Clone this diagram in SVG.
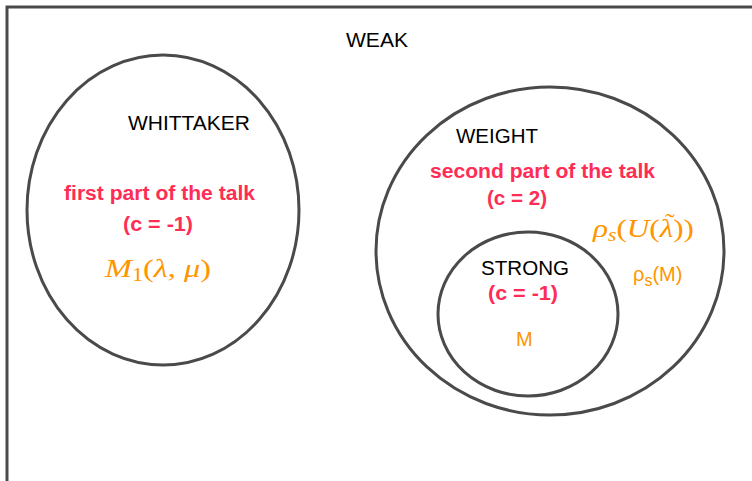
<svg xmlns="http://www.w3.org/2000/svg" width="752" height="481" viewBox="0 0 752 481">
<style>
.shape{fill:none;stroke:#4a4a4a;stroke-width:3}
.lbl{font-family:"Liberation Sans",Arial,sans-serif;font-size:20px;fill:#000}
.pink{font-family:"Liberation Sans",Arial,sans-serif;font-size:20px;font-weight:bold;fill:#ff2d55}
.or{font-family:"Liberation Sans",Arial,sans-serif;font-size:20px;fill:#ff9500}
.math{font-family:"Liberation Serif","Times New Roman",serif;font-size:26px;fill:#ff9500}
</style>
<rect width="752" height="481" fill="#fff"/>
<g id="weak">
<path class="shape" d="M7 481 V7 H752"/>
<text class="lbl" x="346" y="47" textLength="62" lengthAdjust="spacingAndGlyphs">WEAK</text>
</g>
<g id="whittaker">
<ellipse class="shape" cx="163" cy="210" rx="136" ry="155"/>
<text class="lbl" x="128" y="130" textLength="122" lengthAdjust="spacingAndGlyphs">WHITTAKER</text>
<text class="pink" x="64" y="200" textLength="191" lengthAdjust="spacingAndGlyphs">first part of the talk</text>
<text class="pink" x="123" y="231" textLength="70" lengthAdjust="spacingAndGlyphs">(c = -1)</text>
<text class="math" x="105" y="277" textLength="106" lengthAdjust="spacingAndGlyphs"><tspan font-style="italic">M</tspan><tspan font-size="18" dy="4">1</tspan><tspan dy="-4">(</tspan><tspan font-style="italic">λ</tspan>, <tspan font-style="italic">μ</tspan>)</text>
</g>
<g id="weight">
<ellipse class="shape" cx="550" cy="251" rx="174" ry="164"/>
<text class="lbl" x="456" y="143" textLength="82" lengthAdjust="spacingAndGlyphs">WEIGHT</text>
<text class="pink" x="430" y="178" textLength="225" lengthAdjust="spacingAndGlyphs">second part of the talk</text>
<text class="pink" x="487" y="205" textLength="60" lengthAdjust="spacingAndGlyphs">(c = 2)</text>
<text class="math" transform="translate(593 237) scale(1.2 1)"><tspan font-style="italic">ρ</tspan><tspan font-style="italic" font-size="18" dy="4">s</tspan><tspan dy="-4">(</tspan><tspan font-style="italic">U</tspan>(<tspan font-style="italic">λ</tspan>))<tspan x="60" y="-7" font-size="24">˜</tspan></text>
<text class="or" x="633" y="281">ρ<tspan font-size="16" dy="5">s</tspan><tspan dy="-5">(M)</tspan></text>
</g>
<g id="strong">
<ellipse class="shape" cx="528" cy="314" rx="90" ry="82"/>
<text class="lbl" x="481" y="275" textLength="88" lengthAdjust="spacingAndGlyphs">STRONG</text>
<text class="pink" x="488" y="300" textLength="70" lengthAdjust="spacingAndGlyphs">(c = -1)</text>
<text class="or" x="516" y="346">M</text>
</g>
<g id="connectors"/>
</svg>
